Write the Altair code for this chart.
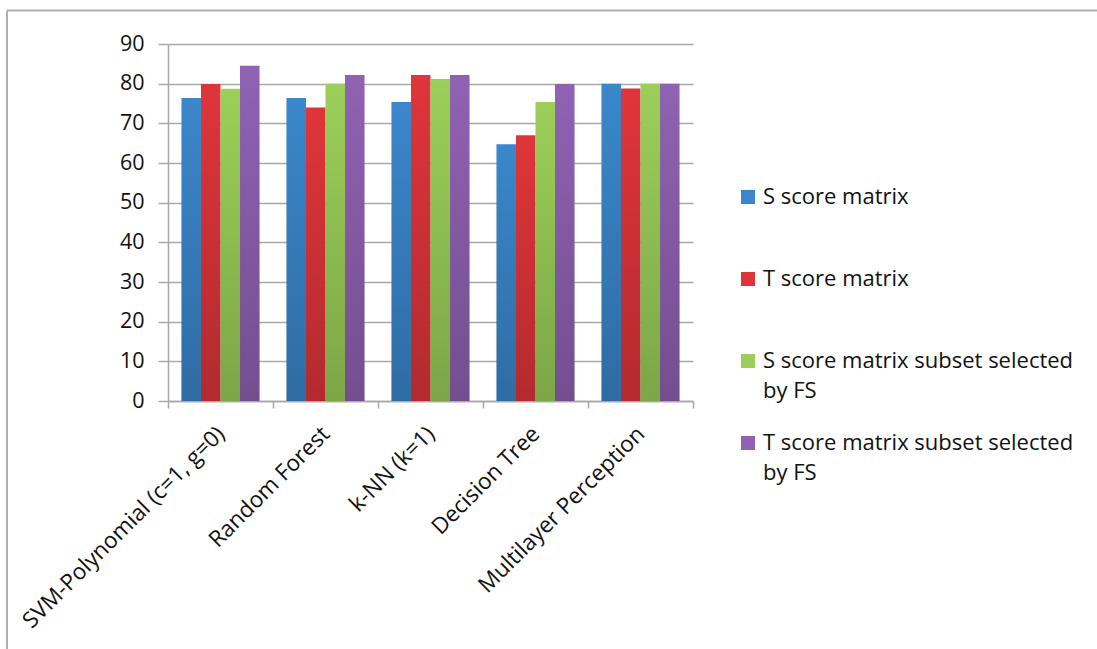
import altair as alt
import pandas as pd

# Classifier accuracy (%) for each feature matrix
classifiers = [
    "SVM-Polynomial (c=1, g=0)",
    "Random Forest",
    "k-NN (k=1)",
    "Decision Tree",
    "Multilayer Perception",
]
series = [
    "S score matrix",
    "T score matrix",
    "S score matrix subset selected by FS",
    "T score matrix subset selected by FS",
]
s_score = [76.4, 76.4, 75.4, 64.7, 80.0]
t_score = [79.9, 74.0, 82.2, 67.0, 78.8]
s_subset = [78.7, 80.0, 81.2, 75.4, 80.0]
t_subset = [84.5, 82.2, 82.2, 79.9, 80.0]
colors = ["#3A87CB", "#DF353A", "#9BCF59", "#9062B3"]
y_ticks = [0, 10, 20, 30, 40, 50, 60, 70, 80, 90]

rows = []
for name, vals in zip(series, [s_score, t_score, s_subset, t_subset]):
    for clf, v in zip(classifiers, vals):
        rows.append({"classifier": clf, "series": name, "value": v})
df = pd.DataFrame(rows)

W, H = 525, 357
FONT = "Open Sans"
GRAY = "#A8A8A8"
TEXT = "#111111"

# category bands touch; the gap between groups comes from the offset scale's outer padding
x_scale = alt.Scale(domain=classifiers, paddingInner=0, paddingOuter=0)
x_axis = alt.Axis(
    labelAngle=-45, labelAlign="right", labelBaseline="middle",
    labelFont=FONT, labelFontSize=22.5, labelColor=TEXT, labelPadding=22,
    labelLimit=400, tickBand="extent", tickSize=7, tickColor=GRAY,
    tickWidth=1.5, domainColor=GRAY, domainWidth=1.5, grid=False,
)
y_axis = alt.Axis(
    values=y_ticks, labelFont=FONT, labelFontSize=21.5, labelColor=TEXT,
    labelPadding=14, tickSize=10, tickColor=GRAY, tickWidth=1.5,
    domainColor=GRAY, domainWidth=1.5, gridColor=GRAY, gridWidth=1.5,
)
x = alt.X("classifier:N", sort=classifiers, title=None, scale=x_scale, axis=x_axis)
xo = alt.XOffset("series:N", sort=series,
                 scale=alt.Scale(domain=series, paddingInner=0, paddingOuter=0.69))
y = alt.Y("value:Q", title=None,
          scale=alt.Scale(domain=[0, 90], nice=False, zero=True), axis=y_axis)

# legend labels wrap before "by FS"; single-line labels get an empty second line
label_expr = (
    "indexof(datum.label, ' by FS') > 0 ? "
    "[replace(datum.label, ' by FS', ''), 'by FS'] : [datum.label, '']"
)

bars = alt.Chart(df).mark_bar().encode(
    x=x,
    xOffset=xo,
    y=y,
    color=alt.Color(
        "series:N", sort=series,
        scale=alt.Scale(domain=series, range=colors),
        legend=alt.Legend(
            title=None, orient="none", legendX=569, legendY=142,
            symbolType="square", symbolSize=196, symbolStrokeWidth=0,
            labelFont=FONT, labelFontSize=22, labelColor=TEXT,
            labelLimit=500, labelOffset=4, rowPadding=30, padding=0,
            labelExpr=label_expr,
        ),
    ),
)

# darker toward the bottom of each bar
shade = alt.Chart(df).mark_bar(
    color=alt.Gradient(
        gradient="linear", x1=0, y1=0, x2=0, y2=1,
        stops=[
            alt.GradientStop(color="rgba(0,0,0,0)", offset=0),
            alt.GradientStop(color="rgba(0,0,0,0.2)", offset=1),
        ],
    )
).encode(x=x, xOffset=xo, y=y)

# outer chart frame
frame_df = pd.DataFrame({"k": [0]})
frame_top = alt.Chart(frame_df).mark_rule(color="#B0B0B0", strokeWidth=2).encode(
    x=alt.value(-161), x2=alt.value(940), y=alt.value(-33.5)
)
frame_left = alt.Chart(frame_df).mark_rule(color="#B0B0B0", strokeWidth=2).encode(
    x=alt.value(-161), y=alt.value(-33.5), y2=alt.value(620)
)

chart = alt.layer(bars, shade, frame_top, frame_left).properties(
    width=W, height=H,
    autosize=alt.AutoSizeParams(type="none"),
    padding={"left": 168, "top": 44, "right": 404, "bottom": 248},
).configure(
    background="white",
    style={"guide-label": {"lineHeight": 30}},
).configure_view(
    stroke=None,
)

chart.save("out.html", embed_options={"renderer": "svg", "actions": False})
